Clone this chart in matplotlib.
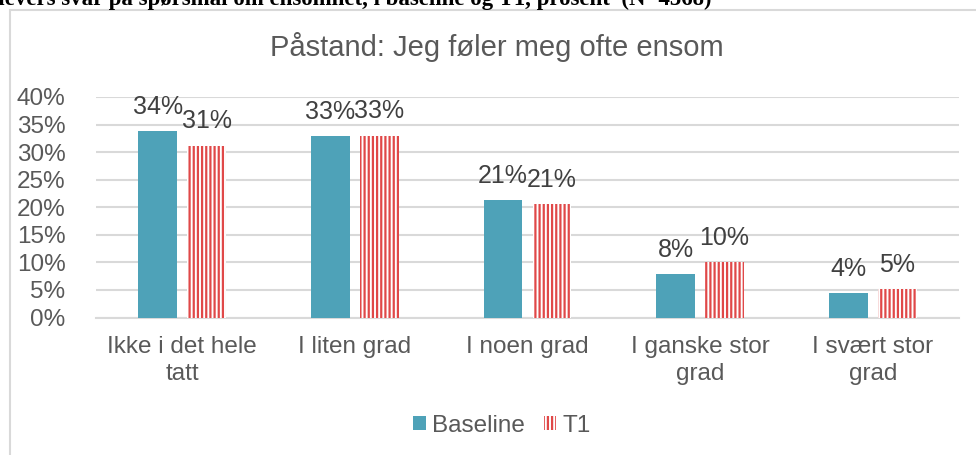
import numpy as np
import matplotlib
matplotlib.use('Agg')
import matplotlib.pyplot as plt
from matplotlib.patches import Rectangle

# data
categories = ['Ikke i det hele\ntatt', 'I liten grad', 'I noen grad',
              'I ganske stor\ngrad', 'I svært stor\ngrad']
baseline = [33.8, 32.9, 21.3, 7.9, 4.4]
t1 = [31.2, 33.0, 20.6, 10.0, 5.2]
baseline_labels = ['34%', '33%', '21%', '8%', '4%']
t1_labels = ['31%', '33%', '21%', '10%', '5%']
yticks = [0, 5, 10, 15, 20, 25, 30, 35, 40]

TEAL = '#4EA2B8'
RED = '#E04848'
GREY = '#595959'

plt.rcParams['font.family'] = ['Liberation Sans', 'DejaVu Sans']
plt.rcParams['hatch.linewidth'] = 1.6

W, H = 976, 455
fig = plt.figure(figsize=(W / 100, H / 100), dpi=100)

# outer chart border (top and left visible)
fig.add_artist(Rectangle((10 / W, -0.1), 1.2, (H - 9.5) / H + 0.1,
                         transform=fig.transFigure, fill=False,
                         edgecolor='#D9D9D9', linewidth=1.5))

# caption, cut off at the top edge as in the source
fig.text(-17 / W, 1 - 5 / H, 'Elevers svar på spørsmål om ensomhet, i baseline og T1, prosent  (N=4568)',
         family='Liberation Serif', fontweight='bold', fontsize=16.5,
         ha='left', va='baseline')

ax = fig.add_axes([96 / W, 1 - 317.5 / H, (959 - 96) / W, (317.5 - 97) / H])

x = np.arange(len(categories))
bw = 0.225
off = 0.142
ax.bar(x - off, baseline, bw, color=TEAL, label='Baseline', zorder=3)
ax.bar(x + off, t1, bw, facecolor='white', edgecolor=RED, hatch='||||',
       linewidth=0, label='T1', zorder=3)

for i in range(len(categories)):
    ax.text(x[i] - off, baseline[i] + 2.2, baseline_labels[i], ha='center',
            va='bottom', fontsize=18, color='#404040')
    ax.text(x[i] + off, t1[i] + 2.2, t1_labels[i], ha='center',
            va='bottom', fontsize=18, color='#404040')

ax.set_xlim(-0.5, len(categories) - 0.5)
ax.set_ylim(0, 40)
ax.set_yticks(yticks)
ax.set_yticklabels([f'{v}%' for v in yticks])
ax.set_xticks(x)
ax.set_xticklabels(categories, linespacing=1.3)
ax.tick_params(axis='both', length=0, labelsize=17.5, labelcolor=GREY)
ax.tick_params(axis='y', pad=22)
ax.tick_params(axis='x', pad=13)
ax.grid(axis='y', color='#D9D9D9', linewidth=1.5, zorder=0)
for s in ['top', 'right', 'left']:
    ax.spines[s].set_visible(False)
ax.spines['bottom'].set_color('#D9D9D9')
ax.spines['bottom'].set_linewidth(1.5)

fig.text(497 / W, 1 - 47 / H, 'Påstand: Jeg føler meg ofte ensom', ha='center',
         va='center', fontsize=21, color=GREY)

leg = fig.legend(loc='center', bbox_to_anchor=(502 / W, 1 - 426 / H), ncol=2,
                 frameon=False, fontsize=17.5, labelcolor=GREY, handlelength=0.5,
                 handleheight=0.5, handletextpad=0.25, columnspacing=0.8)

fig.savefig('out.png', dpi=100)
